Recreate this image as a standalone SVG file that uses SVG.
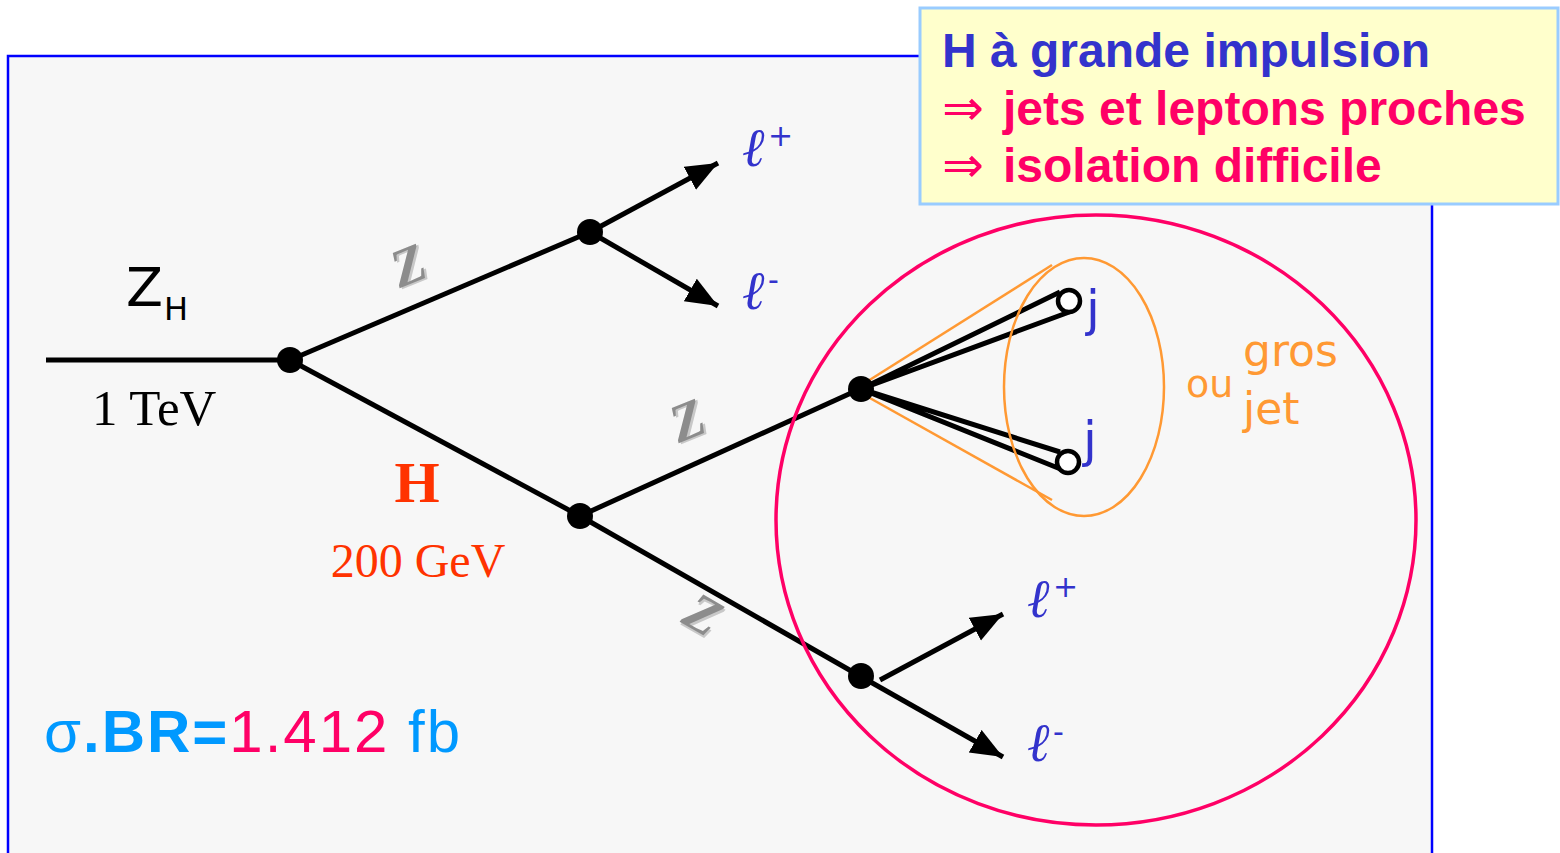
<svg xmlns="http://www.w3.org/2000/svg" width="1560" height="853" viewBox="0 0 1560 853">
<defs>
<marker id="ah" markerUnits="userSpaceOnUse" markerWidth="34" markerHeight="28" refX="32" refY="13" orient="auto">
<path d="M0,0 L32,13 L0,26 z" fill="#000"/>
</marker>
<style>
.ln{stroke:#000;stroke-width:5;fill:none}
.dot{fill:#000}
.zl{font-family:"Liberation Serif",serif;font-weight:bold;font-style:italic;font-size:54px}
.ell{font-family:"DejaVu Serif","Liberation Serif",serif;font-style:italic;font-size:54px;fill:#3333cc}
.sup{font-family:"DejaVu Sans",sans-serif;font-size:30px;fill:#3333cc}
.j{font-family:"DejaVu Sans",sans-serif;font-size:50px;fill:#3333cc}
.or{font-family:"DejaVu Sans",sans-serif;font-size:44px;fill:#ff9933}
.box{font-family:"Liberation Sans",Arial,sans-serif;font-weight:bold;font-size:48px}
.arr{font-weight:normal;font-family:"DejaVu Sans",sans-serif;font-size:50px}
</style>
</defs>
<rect x="8" y="56" width="1424" height="820" fill="#f7f7f7" stroke="#0000ff" stroke-width="2.5"/>
<g id="connectors">
<line class="ln" x1="46" y1="360" x2="290" y2="360"/>
<line class="ln" x1="290" y1="360" x2="590" y2="232"/>
<line class="ln" x1="290" y1="360" x2="580" y2="516"/>
<line class="ln" x1="590" y1="232" x2="718" y2="163" marker-end="url(#ah)"/>
<line class="ln" x1="590" y1="232" x2="718" y2="306" marker-end="url(#ah)"/>
<line class="ln" x1="580" y1="516" x2="860" y2="389"/>
<line class="ln" x1="580" y1="516" x2="860" y2="676"/>
<line class="ln" x1="880" y1="680" x2="1003" y2="614" marker-end="url(#ah)"/>
<line class="ln" x1="860" y1="676" x2="1003" y2="757" marker-end="url(#ah)"/>
<line x1="868" y1="381" x2="1052" y2="265" stroke="#ff9933" stroke-width="2.5"/>
<line x1="868" y1="397" x2="1052" y2="500" stroke="#ff9933" stroke-width="2.5"/>
<path class="ln" d="M861,389 L1060,292 M861,389 L1072,311"/>
<path class="ln" d="M861,389 L1060,452 M861,389 L1068,472"/>
</g>
<g id="n-orange-ellipse"><ellipse cx="1084" cy="387" rx="80" ry="129" fill="none" stroke="#ff9933" stroke-width="2.5"/></g>
<g id="n-pink-circle"><ellipse cx="1096" cy="520" rx="320" ry="305" fill="none" stroke="#ff0066" stroke-width="3.5"/></g>
<g id="n-v1"><circle class="dot" cx="290" cy="360" r="13"/></g>
<g id="n-v2"><circle class="dot" cx="590" cy="232" r="13"/></g>
<g id="n-v3"><circle class="dot" cx="580" cy="516" r="13"/></g>
<g id="n-v4"><circle class="dot" cx="861" cy="389" r="13"/></g>
<g id="n-v5"><circle class="dot" cx="861" cy="676" r="13"/></g>
<g id="n-j1"><circle cx="1069" cy="301" r="11" fill="#fff" stroke="#000" stroke-width="4.5"/><text class="j" x="1086" y="326">j</text></g>
<g id="n-j2"><circle cx="1068" cy="462" r="11" fill="#fff" stroke="#000" stroke-width="4.5"/><text class="j" x="1083" y="457">j</text></g>
<g id="n-zh"><text x="126" y="306" font-family="DejaVu Sans,sans-serif" font-size="54" fill="#000">Z</text><text x="164" y="320" font-family="DejaVu Sans,sans-serif" font-size="32" fill="#000">H</text>
<text x="92" y="425" font-family="Liberation Serif,serif" font-size="51" fill="#000">1 TeV</text></g>
<g id="n-h"><text x="417" y="502" text-anchor="middle" font-family="Liberation Serif,serif" font-weight="bold" font-size="58" fill="#ff3300">H</text>
<text x="418" y="577" text-anchor="middle" font-family="Liberation Serif,serif" font-size="48" fill="#ff3300">200 GeV</text></g>
<g id="n-z1" transform="translate(415,282) rotate(-22)"><text class="zl" x="2" y="2" fill="#c8c8c8" text-anchor="middle">Z</text><text class="zl" x="0" y="0" fill="#8c8c8c" text-anchor="middle">Z</text></g>
<g id="n-z2" transform="translate(694,437) rotate(-22)"><text class="zl" x="2" y="2" fill="#c8c8c8" text-anchor="middle">Z</text><text class="zl" x="0" y="0" fill="#8c8c8c" text-anchor="middle">Z</text></g>
<g id="n-z3" transform="translate(694,630) rotate(30)"><text class="zl" x="2" y="2" fill="#c8c8c8" text-anchor="middle">Z</text><text class="zl" x="0" y="0" fill="#8c8c8c" text-anchor="middle">Z</text></g>
<g id="n-l1"><text class="ell" x="742" y="166">ℓ</text><text class="sup" x="768" y="146">+</text></g>
<g id="n-l2"><text class="ell" x="742" y="309">ℓ</text><text class="sup" x="768" y="290">-</text></g>
<g id="n-l3"><text class="ell" x="1027" y="617">ℓ</text><text class="sup" x="1053" y="597">+</text></g>
<g id="n-l4"><text class="ell" x="1027" y="761">ℓ</text><text class="sup" x="1053" y="742">-</text></g>
<g id="n-gros"><text class="or" x="1186" y="397" font-size="38" style="font-size:38px">ou</text><text class="or" x="1243" y="366">gros</text><text class="or" x="1243" y="424">jet</text></g>
<g id="n-sigma"><text x="44" y="752" font-family="Liberation Sans,Arial,sans-serif" font-size="60" textLength="416" lengthAdjust="spacing"><tspan fill="#0099ff">σ</tspan><tspan fill="#0099ff" font-weight="bold">.BR=</tspan><tspan fill="#ff0066">1.412 </tspan><tspan fill="#0099ff">fb</tspan></text></g>
<g id="n-box">
<rect x="920" y="8" width="638" height="196" fill="#ffffcc" stroke="#99ccff" stroke-width="3"/>
<text class="box" x="942" y="67" fill="#3333cc">H à grande impulsion</text>
<text class="box" x="942" y="125" fill="#ff0066"><tspan class="arr">⇒</tspan><tspan x="1003">jets et leptons proches</tspan></text>
<text class="box" x="942" y="182" fill="#ff0066"><tspan class="arr">⇒</tspan><tspan x="1003">isolation difficile</tspan></text>
</g>
</svg>
